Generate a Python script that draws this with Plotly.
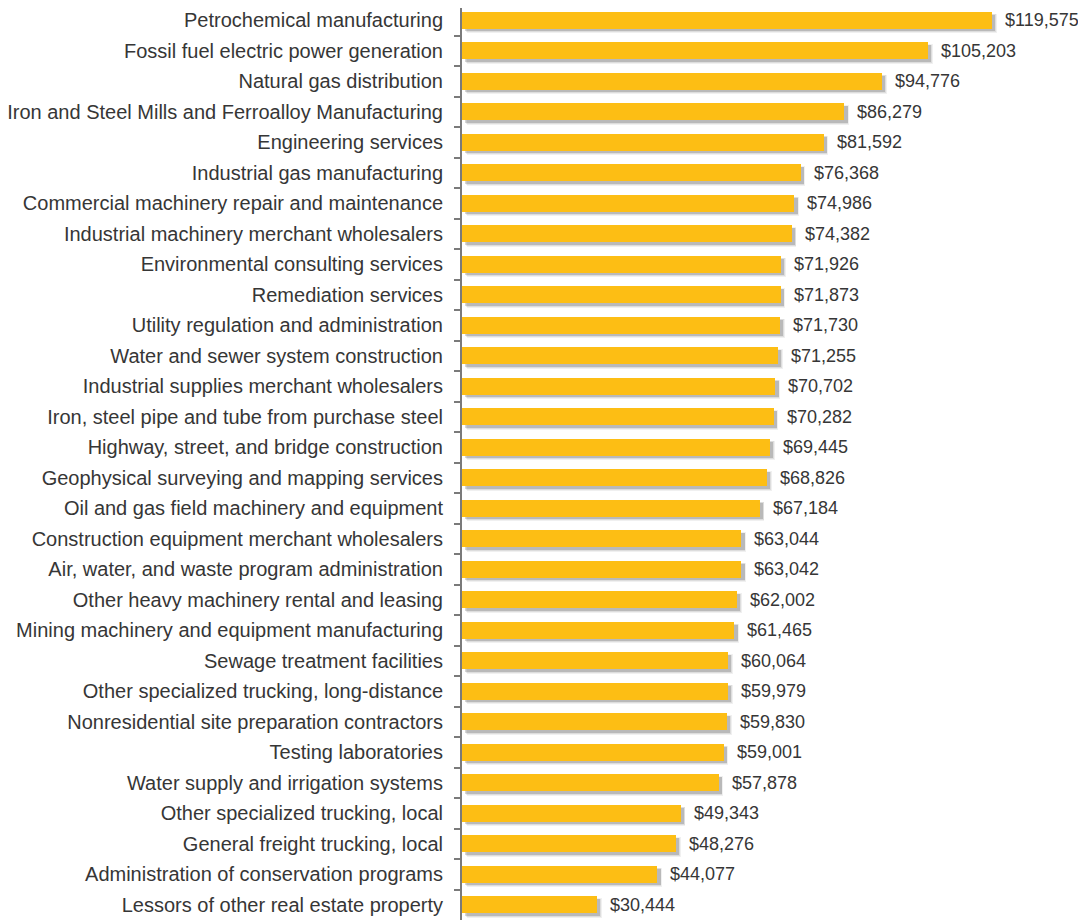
import plotly.graph_objects as go

categories = [
    "Petrochemical manufacturing",
    "Fossil fuel electric power generation",
    "Natural gas distribution",
    "Iron and Steel Mills and Ferroalloy Manufacturing",
    "Engineering services",
    "Industrial gas manufacturing",
    "Commercial machinery repair and maintenance",
    "Industrial machinery merchant wholesalers",
    "Environmental consulting services",
    "Remediation services",
    "Utility regulation and administration",
    "Water and sewer system construction",
    "Industrial supplies merchant wholesalers",
    "Iron, steel pipe and tube from purchase steel",
    "Highway, street, and bridge construction",
    "Geophysical surveying and mapping services",
    "Oil and gas field machinery and equipment",
    "Construction equipment merchant wholesalers",
    "Air, water, and waste program administration",
    "Other heavy machinery rental and leasing",
    "Mining machinery and equipment manufacturing",
    "Sewage treatment facilities",
    "Other specialized trucking, long-distance",
    "Nonresidential site preparation contractors",
    "Testing laboratories",
    "Water supply and irrigation systems",
    "Other specialized trucking, local",
    "General freight trucking, local",
    "Administration of conservation programs",
    "Lessors of other real estate property",
]

wages = [
    119575, 105203, 94776, 86279, 81592, 76368, 74986, 74382, 71926, 71873,
    71730, 71255, 70702, 70282, 69445, 68826, 67184, 63044, 63042, 62002,
    61465, 60064, 59979, 59830, 59001, 57878, 49343, 48276, 44077, 30444,
]

value_labels = ["${:,}".format(v) for v in wages]

BAR_COLOR = "#FDBE14"
TEXT_COLOR = "#363636"
FONT = "Liberation Sans, Arial, sans-serif"
BAR_W = 0.55
X_MAX = 140760
SHADOW_SHIFT = 700  # data units (~3 px)

# page body has an 8px margin: figure is sized/positioned to compensate
FIG_W, FIG_H = 1078, 912
ROW_PX = 30.5
n = len(categories)
y_top = (n - 0.5) - FIG_H / ROW_PX

fig = go.Figure()

# soft drop shadow (layers)
fig.add_trace(go.Bar(
    y=categories, x=wages, base=SHADOW_SHIFT + 350, orientation="h",
    width=BAR_W + 0.09, offset=-(BAR_W + 0.09) / 2 + 0.11,
    marker=dict(color="rgba(0,0,0,0.06)", line=dict(width=0)),
    hoverinfo="skip", showlegend=False,
))
fig.add_trace(go.Bar(
    y=categories, x=wages, base=SHADOW_SHIFT + 150, orientation="h",
    width=BAR_W + 0.04, offset=-(BAR_W + 0.04) / 2 + 0.1,
    marker=dict(color="rgba(0,0,0,0.08)", line=dict(width=0)),
    hoverinfo="skip", showlegend=False,
))
fig.add_trace(go.Bar(
    y=categories, x=wages, base=SHADOW_SHIFT, orientation="h",
    width=BAR_W, offset=-BAR_W / 2 + 0.09,
    marker=dict(color="rgba(0,0,0,0.16)", line=dict(width=0)),
    hoverinfo="skip", showlegend=False,
))
fig.add_trace(go.Bar(
    y=categories, x=wages, orientation="h",
    width=BAR_W, offset=-BAR_W / 2,
    marker=dict(color=BAR_COLOR, line=dict(width=0)),
    hoverinfo="skip", showlegend=False,
))

for c, v, t in zip(categories, wages, value_labels):
    fig.add_annotation(
        x=v, y=c, text=t, showarrow=False, xanchor="left", yanchor="middle",
        xshift=11, font=dict(family=FONT, size=18, color=TEXT_COLOR),
    )

fig.update_layout(
    width=FIG_W, height=FIG_H,
    margin=dict(l=454, r=0, t=0, b=0, autoexpand=False),
    paper_bgcolor="white", plot_bgcolor="white",
    barmode="overlay",
    bargap=0,
    hovermode=False,
    font=dict(family=FONT, color=TEXT_COLOR),
    xaxis=dict(visible=False, range=[0, X_MAX], fixedrange=True),
    yaxis=dict(
        range=[n - 0.5, y_top],
        showline=True, linecolor="#7a7a7a", linewidth=2,
        ticks="outside", ticklen=6, tickcolor="#7a7a7a", tickwidth=2,
        tickson="boundaries",
        tickfont=dict(family=FONT, size=20, color=TEXT_COLOR),
        ticklabelstandoff=13,
        showgrid=False, zeroline=False, automargin=False,
        fixedrange=True,
    ),
)

fig.write_html("out.html")
